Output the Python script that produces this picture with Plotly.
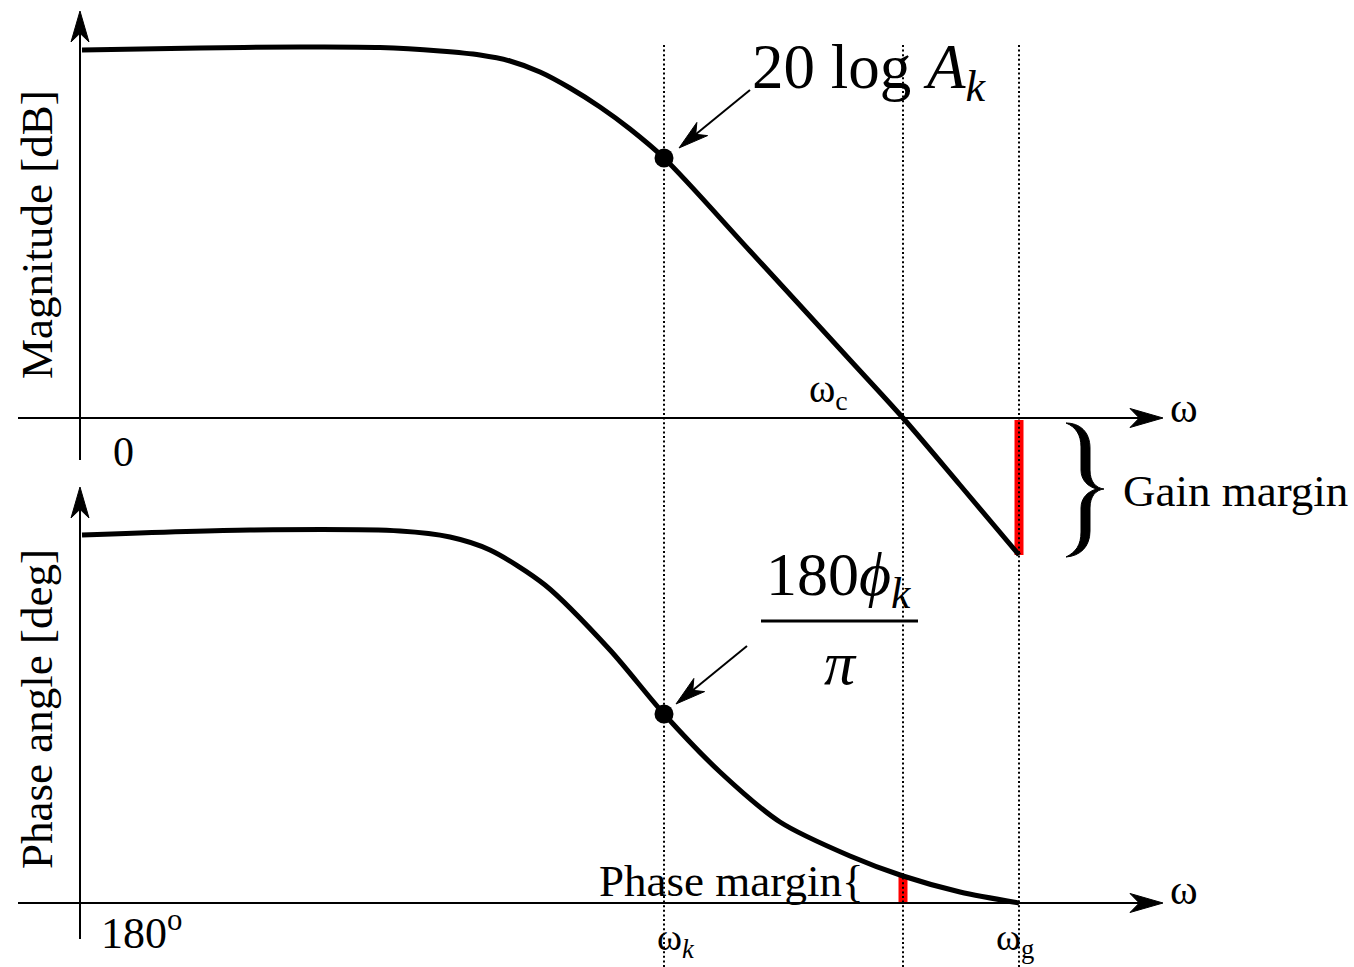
import numpy as np
import plotly.graph_objects as go

# ---------------- data ----------------
mag_freq = [0.2, 12, 22, 30, 36, 40, 43, 46, 49, 52, 55, 58.4, 67, 77, 82.3, 88, 93.9]
mag_db = [36.8, 37.0, 37.1, 37.05, 36.7, 36.3, 35.7, 34.6, 33.0, 31.1, 28.9, 26.0, 16.7, 5.8, 0.0, -6.7, -13.7]
phase_freq = [0.2, 17, 32, 37, 41, 46.5, 53, 58.4, 64, 70, 77, 82.3, 88, 93.9]
phase_deg = [4.0, 6.5, 6.0, 3.0, -3.5, -21.0, -53.5, -85.5, -114.5, -139.5, -156.5, -166.5, -174.5, -180.0]
omega_k = 58.4
omega_c = 82.3
omega_g = 93.9
mag_ref = 0.0
phase_ref = -180.0

W, H = 1354, 967
FONT = "Liberation Serif"


def X(px):
    return px / W


def Y(py):
    return 1 - py / H


def P(px, py):
    return f"{X(px):.5f},{Y(py):.5f}"


def arrow_head(tip, tail, L, hw, notch=0.72):
    tx, ty = tip
    dx, dy = tx - tail[0], ty - tail[1]
    n = (dx * dx + dy * dy) ** 0.5
    ux, uy = dx / n, dy / n
    nx, ny = -uy, ux
    bx, by = tx - L * ux, ty - L * uy
    mx, my = tx - notch * L * ux, ty - notch * L * uy
    return ("M" + P(tx, ty) + " L" + P(bx + hw * nx, by + hw * ny) + " L" + P(mx, my)
            + " L" + P(bx - hw * nx, by - hw * ny) + " Z")


fig = go.Figure()

fig.add_trace(go.Scatter(x=mag_freq, y=mag_db, mode="lines",
                         line=dict(color="black", width=5, shape="spline", smoothing=0.9),
                         xaxis="x", yaxis="y", hoverinfo="skip"))
fig.add_trace(go.Scatter(x=phase_freq, y=phase_deg, mode="lines",
                         line=dict(color="black", width=5, shape="spline", smoothing=0.8),
                         xaxis="x", yaxis="y2", hoverinfo="skip"))
fig.add_trace(go.Scatter(x=[omega_k], y=[float(np.interp(omega_k, mag_freq, mag_db))], mode="markers",
                         marker=dict(color="black", size=19), xaxis="x", yaxis="y", hoverinfo="skip"))
fig.add_trace(go.Scatter(x=[omega_k], y=[float(np.interp(omega_k, phase_freq, phase_deg))], mode="markers",
                         marker=dict(color="black", size=19), xaxis="x", yaxis="y2", hoverinfo="skip"))

shapes = []
# red margins (below dotted lines)
shapes.append(dict(type="line", xref="x", yref="y", x0=omega_g, x1=omega_g,
                   y0=mag_ref - 0.2, y1=mag_db[-1], line=dict(color="#ff0000", width=9), layer="below"))
shapes.append(dict(type="line", xref="x", yref="y2", x0=omega_c, x1=omega_c,
                   y0=phase_ref, y1=float(np.interp(omega_c, phase_freq, phase_deg)),
                   line=dict(color="#ff0000", width=9), layer="below"))
# dotted verticals
for w in (omega_k, omega_c, omega_g):
    shapes.append(dict(type="line", xref="x", yref="paper", x0=w, x1=w, y0=0, y1=Y(45),
                       line=dict(color="black", width=2, dash="2px,2.6px"), layer="above"))
# axes
for yr, ref in (("y", mag_ref), ("y2", phase_ref)):
    shapes.append(dict(type="line", xref="paper", yref=yr, x0=X(18), x1=X(1150), y0=ref, y1=ref,
                       line=dict(color="black", width=2)))
shapes.append(dict(type="line", xref="x", yref="paper", x0=0, x1=0, y0=Y(460), y1=Y(25),
                   line=dict(color="black", width=2)))
shapes.append(dict(type="line", xref="x", yref="paper", x0=0, x1=0, y0=Y(939), y1=Y(500),
                   line=dict(color="black", width=2)))
heads = [
    arrow_head((1163, 418), (1000, 418), 33, 9.5),
    arrow_head((1163, 903), (1000, 903), 33, 9.5),
    arrow_head((80, 11), (80, 200), 31, 9),
    arrow_head((80, 487), (80, 700), 31, 9),
    arrow_head((679, 148), (750, 90), 30, 8.5),
    arrow_head((676, 704), (747, 646), 30, 8.5),
]
for h in heads:
    shapes.append(dict(type="path", xref="paper", yref="paper", path=h,
                       fillcolor="black", line=dict(color="black", width=1)))
# pointer lines
shapes.append(dict(type="line", xref="paper", yref="paper", x0=X(750), y0=Y(90), x1=X(690), y1=Y(139),
                   line=dict(color="black", width=2)))
shapes.append(dict(type="line", xref="paper", yref="paper", x0=X(747), y0=Y(646), x1=X(687), y1=Y(695),
                   line=dict(color="black", width=2)))
# fraction bar
shapes.append(dict(type="line", xref="paper", yref="paper", x0=X(761), y0=Y(621), x1=X(918), y1=Y(621),
                   line=dict(color="black", width=3)))
# big brace
brace = ("M" + P(1066, 423)
         + " C" + P(1080, 423) + " " + P(1090, 432) + " " + P(1090, 448)
         + " L" + P(1090, 470)
         + " C" + P(1090, 482) + " " + P(1096, 488) + " " + P(1104, 489)
         + " C" + P(1096, 490) + " " + P(1090, 496) + " " + P(1090, 508)
         + " L" + P(1090, 531)
         + " C" + P(1090, 547) + " " + P(1080, 556) + " " + P(1066, 557)
         + " C" + P(1076, 552) + " " + P(1081, 545) + " " + P(1081, 532)
         + " L" + P(1081, 508)
         + " C" + P(1081, 498) + " " + P(1088, 491) + " " + P(1097, 489)
         + " C" + P(1088, 487) + " " + P(1081, 480) + " " + P(1081, 470)
         + " L" + P(1081, 447)
         + " C" + P(1081, 435) + " " + P(1076, 427) + " " + P(1066, 423) + " Z")
shapes.append(dict(type="path", xref="paper", yref="paper", path=brace,
                   fillcolor="black", line=dict(color="black", width=1)))

ann = []


def text(t, px, py, size, xanchor="center", yanchor="middle", angle=0):
    ann.append(dict(text=t, x=X(px), y=Y(py), xref="paper", yref="paper", showarrow=False,
                    xanchor=xanchor, yanchor=yanchor, textangle=angle,
                    font=dict(family=FONT, size=size, color="black")))


text("Magnitude [dB]", 37, 235, 45, angle=-90)
text("Phase angle [deg]", 37, 709, 45, angle=-90)
text("0", 124, 452, 42)
text("180<sup>o</sup>", 99, 930, 44, xanchor="left")
text("ω", 1184, 408, 42)
text("ω", 1184, 890, 42)
text("ω<sub>c</sub>", 828, 391, 40)
text("ω<sub><i>k</i></sub>", 676, 940, 38)
text("ω<sub>g</sub>", 1015, 940, 38)
text("Gain margin", 1121, 491, 45, xanchor="left")
text("Phase margin{", 597, 881, 45, xanchor="left")
text("20 log <i>A</i><sub><i>k</i></sub>", 750, 72, 63, xanchor="left")
text("180<i>ϕ</i><sub><i>k</i></sub>", 838, 578, 62)
text("<i>π</i>", 840, 663, 62)

fig.update_layout(
    width=W, height=H, autosize=False,
    margin=dict(l=0, r=0, t=0, b=0, pad=0),
    paper_bgcolor="white", plot_bgcolor="white",
    showlegend=False,
    xaxis=dict(range=[-8, 127.4], visible=False, showgrid=False, zeroline=False, fixedrange=True),
    yaxis=dict(range=[-54.9, 41.8], visible=False, showgrid=False, zeroline=False, fixedrange=True),
    yaxis2=dict(range=[-212, 271.5], visible=False, showgrid=False, zeroline=False,
                overlaying="y", fixedrange=True),
    shapes=shapes,
    annotations=ann,
)

fig.write_html("out.html", config={"displayModeBar": False},
               post_script="document.body.style.margin='0';document.body.style.overflow='hidden';")
